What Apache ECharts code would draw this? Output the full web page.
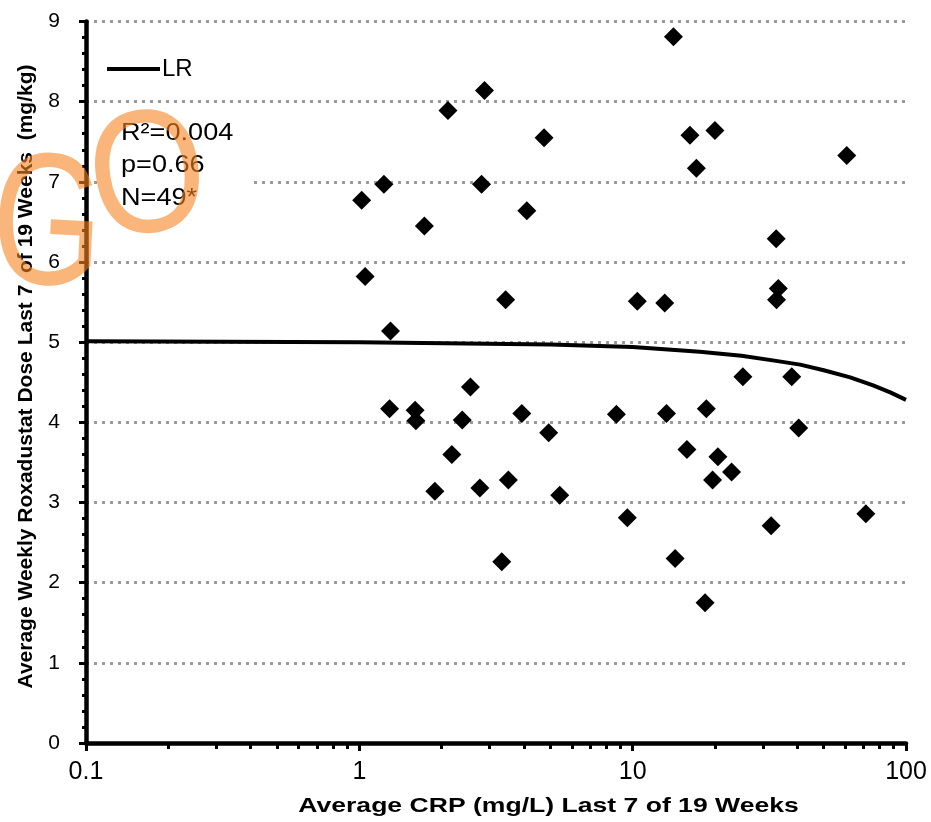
<!DOCTYPE html>
<html><head><meta charset="utf-8">
<script src="https://cdn.jsdelivr.net/npm/echarts@6/dist/echarts.min.js"></script>
<style>html,body{margin:0;padding:0;background:#fff}#c{width:931px;height:822px}</style>
</head><body><div id="c"></div>
<script>
// Scatter data: average CRP (mg/L) vs average weekly roxadustat dose (mg/kg)
const crpValues = [1.02, 1.05, 1.23, 1.30, 1.29, 1.73, 1.60, 1.61, 1.89, 2.18, 2.11, 2.38, 2.55, 2.76, 2.80, 2.87,
  3.32, 3.43, 3.51, 3.93, 4.10, 4.74, 4.93, 5.41, 8.72, 9.56, 10.4, 13.1, 13.3, 14.1, 14.3, 15.8, 16.2, 17.1,
  18.6, 18.4, 19.6, 20.0, 20.5, 23.0, 25.3, 32.1, 33.5, 34.1, 33.6, 38.2, 40.5, 60.7, 71.3];
const doseValues = [6.77, 5.82, 6.97, 5.14, 4.17, 6.45, 4.15, 4.02, 3.14, 3.60, 7.89, 4.03, 4.44, 3.18, 6.97, 8.14,
  2.26, 5.53, 3.28, 4.11, 6.64, 7.55, 3.87, 3.09, 4.10, 2.81, 5.51, 5.49, 4.11, 8.81, 2.30, 3.66, 7.58, 7.17,
  4.17, 1.75, 3.28, 7.64, 3.57, 3.38, 4.57, 2.71, 6.29, 5.67, 5.53, 4.57, 3.93, 7.33, 2.86];
// Linear regression curve (LR)
const lrCrp  = [0.1, 1, 5, 10, 17.6, 25, 33, 41, 50, 62.5, 75.8, 88, 100];
const lrDose = [5.01, 5.00, 4.97, 4.94, 4.88, 4.83, 4.77, 4.72, 4.65, 4.56, 4.46, 4.37, 4.28];
// Axis ticks
const xMinorTicks = [0.2,0.3,0.4,0.5,0.6,0.7,0.8,0.9,2,3,4,5,6,7,8,9,20,30,40,50,60,70,80,90];
const statsLines = ['R\u00b2=0.004', 'p=0.66', 'N=49*'];
const xTitle = 'Average CRP (mg/L) Last 7 of 19 Weeks';
const yTitle = 'Average Weekly Roxadustat Dose Last 7  of 19 Weeks  (mg/kg)';

const FONT = '"Liberation Sans", Arial, sans-serif';
const WM = 'rgba(246,131,33,0.6)';
const chart = echarts.init(document.getElementById('c'), null, {renderer: 'canvas'});

const scatterData = crpValues.map((x, i) => [x, doseValues[i]]);
const lrData = lrCrp.map((x, i) => [x, lrDose[i]]);

const statsGraphics = statsLines.map((t, i) => ({
  type: 'text', x: 121, y: 133 + i * 32.5, scaleX: 1.13, z: 4,
  style: {text: t, fontSize: 24, fontFamily: FONT, fill: '#000', textAlign: 'left', textVerticalAlign: 'middle'}
}));

chart.setOption({
  animation: false,
  backgroundColor: '#fff',
  grid: {left: 86, right: 25, top: 21.5, bottom: 79, containLabel: false},
  legend: {
    data: [{name: 'LR', icon: 'rect'}], left: 107, top: 57, padding: 0, itemWidth: 53, itemHeight: 4, itemGap: 4,
    itemStyle: {color: '#000', opacity: 1, borderWidth: 0},
    lineStyle: {color: '#000', width: 4},
    textStyle: {fontSize: 24, fontFamily: FONT, color: '#000', padding: [0, 0, 0, -3]}
  },
  xAxis: [{
    type: 'log', logBase: 10, min: 0.1, max: 100, position: 'bottom',
    axisLine: {show: true, lineStyle: {color: '#000', width: 4.5}},
    axisTick: {show: true, inside: false, length: 8, lineStyle: {color: '#000', width: 3}},
    axisLabel: {fontSize: 25, fontFamily: FONT, color: '#000', margin: 17, formatter: v => String(v)},
    splitLine: {show: false}, minorTick: {show: false}, minorSplitLine: {show: false}
  }, {
    type: 'log', logBase: 10, min: 0.1, max: 100, position: 'bottom',
    axisLine: {show: false}, axisLabel: {show: false}, splitLine: {show: false},
    axisTick: {show: true, inside: false, length: 6, customValues: xMinorTicks, lineStyle: {color: '#000', width: 3}}
  }],
  yAxis: {
    type: 'value', min: 0, max: 9, interval: 1,
    axisLine: {show: true, lineStyle: {color: '#000', width: 4.5}},
    axisTick: {show: true, inside: false, length: 7, lineStyle: {color: '#000', width: 3}},
    minorTick: {show: true, splitNumber: 5, length: 4, lineStyle: {color: '#000', width: 3}},
    axisLabel: {fontSize: 21, fontFamily: FONT, color: '#000', margin: 26},
    splitLine: {show: true, lineStyle: {color: '#9a9a9a', width: 3, type: [3, 5]}}
  },
  series: [{
    name: 'data', type: 'scatter', xAxisIndex: 0, data: scatterData,
    symbol: 'diamond', symbolSize: 19, itemStyle: {color: '#000', opacity: 1}, z: 3
  }, {
    name: 'LR', type: 'line', xAxisIndex: 0, data: lrData, symbol: 'none', showSymbol: false, smooth: false,
    lineStyle: {color: '#000', width: 4}, itemStyle: {color: '#000'}, z: 4
  }],
  graphic: [
    {type: 'rect', shape: {x: 97, y: 112, width: 155, height: 103}, style: {fill: '#fff'}, z: 3},
    ...statsGraphics,
    {type: 'text', x: 548.5, y: 806, scaleX: 1.265, z: 4,
      style: {text: xTitle, fontSize: 21, fontWeight: 'bold', fontFamily: FONT, fill: '#000', textAlign: 'center', textVerticalAlign: 'middle'}},
    {type: 'text', x: 26, y: 376.5, rotation: Math.PI / 2, z: 4,
      style: {text: yTitle, fontSize: 21, fontWeight: 'bold', fontFamily: FONT, fill: '#000', textAlign: 'center', textVerticalAlign: 'middle'}},
    {type: 'text', x: 47, y: 232, scaleX: 0.76, rotation: -0.05, z: 100,
      style: {text: 'G', fontSize: 188, fontFamily: FONT, fill: WM, textAlign: 'center', textVerticalAlign: 'middle'}},
    {type: 'text', x: 149, y: 183, scaleX: 0.86, rotation: 0.15, z: 100,
      style: {text: 'O', fontSize: 175, fontFamily: FONT, fill: WM, textAlign: 'center', textVerticalAlign: 'middle'}}
  ]
});
</script>
</body></html>
